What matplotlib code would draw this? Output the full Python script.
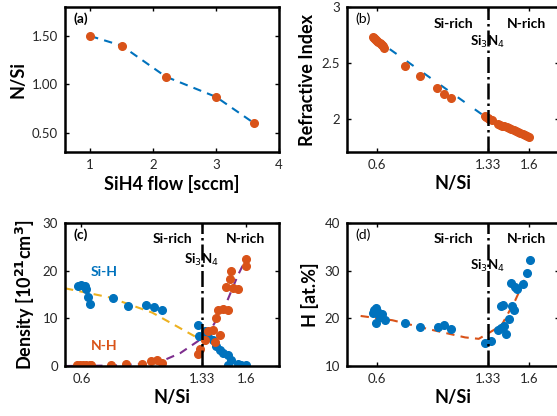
import matplotlib
matplotlib.use("Agg")
import matplotlib.pyplot as plt

plt.rcParams['font.family'] = ['Lato', 'DejaVu Sans']

blue = '#0072BD'
orange = '#D95319'
yellow = '#EDB120'
purple = '#7E2F8E'
tick_grey = '#262626'

# (a) N/Si ratio vs SiH4 flow
flow = [1.0, 1.5, 2.2, 3.0, 3.6]
nsi_flow = [1.50, 1.40, 1.08, 0.87, 0.60]

# (b) refractive index vs N/Si
ri_x = [0.570, 0.578, 0.585, 0.592, 0.600, 0.608, 0.615, 0.622, 0.630, 0.638, 0.647,
        0.784, 0.881, 0.996, 1.040, 1.089,
        1.310, 1.320, 1.330, 1.340, 1.355,
        1.398, 1.412, 1.425, 1.440, 1.455, 1.470, 1.485, 1.500, 1.515, 1.530,
        1.545, 1.560, 1.575, 1.590, 1.605]
ri_y = [2.728, 2.720, 2.712, 2.705, 2.697, 2.688, 2.680, 2.672, 2.662, 2.650, 2.636,
        2.475, 2.379, 2.270, 2.224, 2.188,
        2.020, 2.012, 2.005, 1.995, 1.985,
        1.952, 1.944, 1.937, 1.929, 1.921, 1.913, 1.905, 1.897, 1.889, 1.881,
        1.872, 1.862, 1.852, 1.841, 1.830]
ri_fit_x = [0.57, 1.33, 1.60]
ri_fit_y = [2.73, 2.00, 1.83]

# (c) Si-H and N-H bond densities (1e21 cm^-3)
sih_x = [0.58, 0.60, 0.62, 0.63, 0.64, 0.65, 0.79, 0.88, 0.99, 1.04, 1.09,
         1.31, 1.315, 1.35, 1.37, 1.40, 1.42, 1.44, 1.46, 1.49, 1.49, 1.51,
         1.55, 1.57, 1.60]
sih_y = [16.8, 16.9, 16.7, 16.2, 14.5, 13.1, 14.2, 12.6, 12.7, 12.3, 11.8,
         8.5, 6.3, 7.3, 6.0, 5.5, 4.1, 3.4, 2.8, 2.3, 0.2, 1.2,
         0.4, 0.3, 0.2]
nh_x = [0.57, 0.59, 0.61, 0.63, 0.65, 0.66, 0.78, 0.87, 0.97, 1.02, 1.06, 1.09,
        1.31, 1.32, 1.35, 1.37, 1.40, 1.41, 1.42, 1.43, 1.44, 1.46, 1.48, 1.49,
        1.50, 1.51, 1.52, 1.55, 1.60, 1.60]
nh_y = [0.2, 0.2, 0.2, 0.2, 0.2, 0.2, 0.3, 0.5, 0.5, 1.0, 1.2, 0.6,
        2.5, 3.5, 5.5, 7.3, 7.6, 5.0, 10.1, 11.8, 6.5, 12.0, 16.6, 11.8,
        18.2, 19.9, 16.3, 16.2, 22.4, 21.0]
sih_fit_x = [0.50, 0.77, 1.03, 1.30, 1.45, 1.60]
sih_fit_y = [16.3, 14.4, 11.2, 6.0, 3.0, 0.0]
nh_fit_x = [0.50, 0.80, 1.00, 1.10, 1.20, 1.32, 1.40, 1.48, 1.55, 1.60]
nh_fit_y = [0.0, 0.1, 0.5, 1.2, 2.7, 5.5, 8.5, 13.2, 19.0, 22.5]

# (d) hydrogen content (at.%)
h_x = [0.57, 0.58, 0.59, 0.60, 0.61, 0.62, 0.59, 0.65, 0.63,
       0.78, 0.88, 1.00, 1.04, 1.09, 1.31, 1.35,
       1.40, 1.42, 1.44, 1.45, 1.47, 1.42, 1.43, 1.50, 1.49,
       1.48, 1.51, 1.52, 1.56, 1.59, 1.61]
h_y = [21.2, 21.8, 22.2, 21.5, 20.7, 20.2, 19.0, 19.6, 21.0,
       19.0, 18.1, 18.1, 18.6, 17.8, 14.8, 15.2,
       17.6, 18.0, 18.3, 16.7, 19.9, 22.5, 22.8, 21.8, 22.5,
       27.5, 26.5, 26.2, 27.2, 29.5, 32.3]
h_fit_x = [0.49, 0.70, 0.93, 1.18, 1.27, 1.34, 1.42, 1.51, 1.59]
h_fit_y = [20.5, 19.6, 17.8, 16.0, 15.7, 17.0, 18.5, 23.7, 29.3]

fig = plt.figure(figsize=(5.57, 4.16), dpi=100)
W, H = 557, 416


def px_axes(left, top, right, bottom):
    return fig.add_axes([left / W, 1 - bottom / H, (right - left) / W, (bottom - top) / H])


def style(ax):
    ax.tick_params(direction='in', top=True, right=True, length=3, width=1,
                   labelsize=9.5, labelcolor=tick_grey, pad=5)
    for s in ax.spines.values():
        s.set_linewidth(1.8)


def region_text(ax, sub_y):
    ax.axvline(1.33, color='k', ls='-.', lw=1.8)
    ax.text(0.50, 0.885, 'Si-rich', transform=ax.transAxes, ha='center', va='center',
            fontsize=10, fontweight='bold')
    ax.text(0.845, 0.885, 'N-rich', transform=ax.transAxes, ha='center', va='center',
            fontsize=10, fontweight='bold')
    ax.text(1.33, sub_y, r'Si$_3$N$_4$', ha='center', va='center',
            fontsize=9.5, fontweight='bold')


lab = dict(fontsize=13, fontweight='bold')

# (a)
ax = px_axes(65, 7, 279, 152)
ax.plot(flow, nsi_flow, '--', color=blue, lw=1.5, dashes=(4, 3))
ax.plot(flow, nsi_flow, 'o', color=orange, ms=5.5, ls='none')
ax.set_xlim(0.6, 4)
ax.set_ylim(0.3, 1.8)
ax.set_xticks([1, 2, 3, 4])
ax.set_yticks([0.5, 1.0, 1.5])
ax.set_yticklabels(['0.50', '1.00', '1.50'])
ax.set_xlabel('SiH4 flow [sccm]', labelpad=3, **lab)
ax.set_ylabel('N/Si', **lab)
ax.text(0.04, 0.92, '(a)', transform=ax.transAxes, fontsize=10, fontweight='bold', va='center')
style(ax)

# (b)
ax = px_axes(347, 7, 559, 152)
ax.plot(ri_fit_x, ri_fit_y, '--', color=blue, lw=1.5, dashes=(4, 6))
ax.plot(ri_x, ri_y, 'o', color=orange, ms=5.5, ls='none')
ax.set_xlim(0.4, 1.8)
ax.set_ylim(1.7, 3)
ax.set_xticks([0.6, 1.33, 1.6])
ax.set_xticklabels(['0.6', '1.33', '1.6'])
ax.set_yticks([2, 2.5, 3])
ax.set_yticklabels(['2', '2.5', '3'])
ax.set_xlabel('N/Si', labelpad=3, **lab)
ax.set_ylabel('Refractive Index', **lab)
ax.text(0.04, 0.92, '(b)', transform=ax.transAxes, fontsize=10, va='center')
region_text(ax, 2.69)
style(ax)

# (c)
ax = px_axes(65, 223, 279, 366)
ax.plot(sih_fit_x, sih_fit_y, '--', color=yellow, lw=1.5, dashes=(4, 3))
ax.plot(nh_fit_x, nh_fit_y, '--', color=purple, lw=1.5, dashes=(4, 3))
ax.plot(sih_x, sih_y, 'o', color=blue, ms=5.5, ls='none')
ax.plot(nh_x, nh_y, 'o', color=orange, ms=5.5, ls='none')
ax.set_xlim(0.5, 1.8)
ax.set_ylim(0, 30)
ax.set_xticks([0.6, 1.33, 1.6])
ax.set_xticklabels(['0.6', '1.33', '1.6'])
ax.set_yticks([0, 10, 20, 30])
ax.set_xlabel('N/Si', labelpad=3, **lab)
ax.set_ylabel(r'Density [10$^{\mathbf{21}}$cm$^{\mathbf{3}}$]', **lab)
ax.text(0.74, 19.7, 'Si-H', color=blue, ha='center', va='center', fontsize=10, fontweight='bold')
ax.text(0.74, 4.2, 'N-H', color=orange, ha='center', va='center', fontsize=10, fontweight='bold')
ax.text(0.04, 0.92, '(c)', transform=ax.transAxes, fontsize=10, fontweight='bold', va='center')
region_text(ax, 22.3)
style(ax)

# (d)
ax = px_axes(347, 223, 559, 366)
ax.plot(h_fit_x, h_fit_y, '--', color=orange, lw=1.5, dashes=(4, 3))
ax.plot(h_x, h_y, 'o', color=blue, ms=5.5, ls='none')
ax.set_xlim(0.4, 1.8)
ax.set_ylim(10, 40)
ax.set_xticks([0.6, 1.33, 1.6])
ax.set_xticklabels(['0.6', '1.33', '1.6'])
ax.set_yticks([10, 20, 30, 40])
ax.set_xlabel('N/Si', labelpad=3, **lab)
ax.set_ylabel('H [at.%]', **lab)
ax.text(0.04, 0.92, '(d)', transform=ax.transAxes, fontsize=10, va='center')
region_text(ax, 31.0)
style(ax)

fig.savefig('out.png', dpi=100)
